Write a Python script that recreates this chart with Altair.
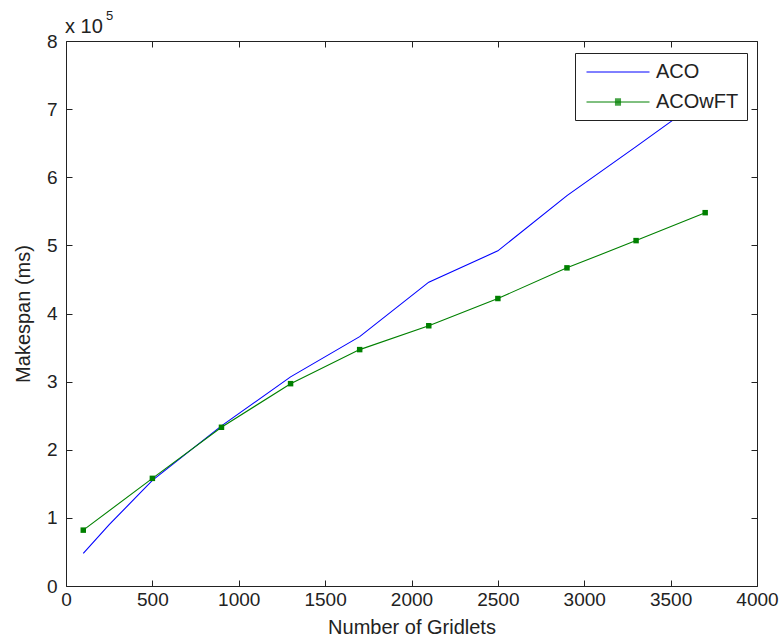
import altair as alt
import pandas as pd

# ---- data ----
aco_n = [100, 250, 500, 900, 1300, 1700, 2100, 2500, 2900, 3300, 3700]
aco_ms = [48000, 90000, 155000, 235000, 307000, 366000, 446000, 492000, 573000, 645000, 718000]

wft_n = [100, 500, 900, 1300, 1700, 2100, 2500, 2900, 3300, 3700]
wft_ms = [82000, 158000, 233000, 297000, 347000, 382000, 422000, 467000, 507000, 548000]

series_names = ["ACO", "ACOwFT"]
series_colors = ["#0000ff", "#008000"]

x_ticks = [0, 500, 1000, 1500, 2000, 2500, 3000, 3500, 4000]
y_ticks = [0, 100000, 200000, 300000, 400000, 500000, 600000, 700000, 800000]

df_aco = pd.DataFrame({"n": aco_n, "ms": aco_ms, "series": "ACO"})
df_wft = pd.DataFrame({"n": wft_n, "ms": wft_ms, "series": "ACOwFT"})
df_all = pd.concat([df_aco, df_wft], ignore_index=True)

W, H = 691, 545
FONT = "Liberation Sans"
INK = "#222222"
FS = 19

xscale = alt.Scale(domain=[0, 4000], nice=False, zero=False)
yscale = alt.Scale(domain=[0, 800000], nice=False, zero=False)

# legend symbol shapes (unit = 10.5 px at symbolSize 441): a long line, plus a solid small square
line_path = "M-3,0H3"
sq_rows = "".join(f"M-0.29,{v}H0.29" for v in ["-0.29", "-0.19", "-0.095", "0", "0.095", "0.19", "0.29"])
square_path = line_path + sq_rows

legend = alt.Legend(
    orient="none", legendX=509, legendY=12, title=None,
    symbolSize=441, symbolStrokeWidth=1, symbolOpacity=1, symbolOffset=24,
    labelFont=FONT, labelFontSize=20, labelColor=INK, labelOffset=27,
    padding=8, rowPadding=9,
    strokeColor=INK, fillColor="white",
)

common_axis = dict(
    domain=False, grid=False, tickSize=6, offset=-6, tickColor=INK, tickWidth=1,
    labelFont=FONT, labelFontSize=FS, labelColor=INK, labelFlush=False,
    titleFont=FONT, titleFontSize=20, titleColor=INK, titleFontWeight="normal",
)

x_bottom = alt.Axis(orient="bottom", values=x_ticks, format="d", labelPadding=4, title="Number of Gridlets",
                    titlePadding=8, **common_axis)
y_left = alt.Axis(orient="left", values=y_ticks, labelPadding=9, labelExpr="datum.value / 100000",
                  title="Makespan (ms)", titlePadding=13, **common_axis)
x_top = alt.Axis(orient="top", values=x_ticks, labels=False, title=None, **common_axis)
y_right = alt.Axis(orient="right", values=y_ticks, labels=False, title=None, **common_axis)

aco_line = alt.Chart(df_aco).mark_line(strokeWidth=1.1, color=series_colors[0]).encode(
    x=alt.X("n:Q", scale=xscale, axis=x_bottom),
    y=alt.Y("ms:Q", scale=yscale, axis=y_left),
)

wft_line = alt.Chart(df_wft).mark_line(strokeWidth=1.1, color=series_colors[1]).encode(
    x=alt.X("n:Q", scale=xscale, axis=x_top),
    y=alt.Y("ms:Q", scale=yscale, axis=y_right),
)

wft_pts = alt.Chart(df_wft).mark_point(shape="square", filled=True, size=30, opacity=1, color="#008000").encode(
    x=alt.X("n:Q", scale=xscale, axis=None),
    y=alt.Y("ms:Q", scale=yscale, axis=None),
)

# invisible layer that only carries the legend
legend_layer = alt.Chart(df_all).mark_point(filled=False, opacity=0).encode(
    x=alt.X("n:Q", scale=xscale, axis=None),
    y=alt.Y("ms:Q", scale=yscale, axis=None),
    color=alt.Color("series:N", scale=alt.Scale(domain=series_names, range=series_colors), legend=legend),
    shape=alt.Shape("series:N", scale=alt.Scale(domain=series_names, range=[line_path, square_path]),
                    legend=legend),
)

exp_text = alt.Chart(alt.Data(values=[{}])).mark_text(
    text="x 10", align="left", baseline="alphabetic", font=FONT, fontSize=20, color=INK
).encode(x=alt.value(-1), y=alt.value(-8))

exp_sup = alt.Chart(alt.Data(values=[{}])).mark_text(
    text="5", align="left", baseline="alphabetic", font=FONT, fontSize=13, color=INK
).encode(x=alt.value(40), y=alt.value(-21))

chart = alt.layer(aco_line, wft_line, wft_pts, legend_layer, exp_text, exp_sup).resolve_axis(
    x="independent", y="independent"
).properties(
    width=W, height=H,
    autosize=alt.AutoSizeParams(type="none"),
    padding={"left": 66, "top": 41, "right": 26, "bottom": 57},
    background="white",
).configure_view(stroke=INK, strokeWidth=1)

chart.save("out.html", embed_options={"renderer": "svg", "actions": False})
